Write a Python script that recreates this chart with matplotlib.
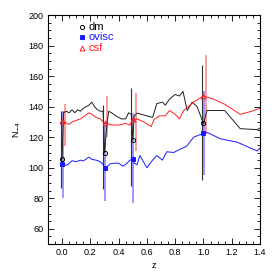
import numpy as np
import matplotlib
matplotlib.use("Agg")
import matplotlib.pyplot as plt
from matplotlib.ticker import MultipleLocator

# continuous curves
dm_z = [0.0, 0.01, 0.03, 0.05, 0.07, 0.09, 0.11, 0.13, 0.15, 0.17, 0.19, 0.21, 0.23, 0.25,
        0.27, 0.29, 0.30, 0.32, 0.33, 0.35, 0.38, 0.42, 0.45, 0.47, 0.49, 0.50, 0.51, 0.53,
        0.60, 0.64, 0.67, 0.71, 0.73, 0.76, 0.80, 0.83, 0.855, 0.885, 0.92, 0.955, 1.0,
        1.025, 1.15, 1.26, 1.38, 1.4]
dm_n = [106, 136, 137, 136, 138, 136, 138, 137, 139, 140, 141, 143, 140, 138,
        137, 137, 110, 131, 137, 136, 134, 132, 132, 136, 135, 118, 134, 135.8,
        134, 133, 142, 143, 141, 145, 148, 147, 150, 137.5, 143, 140, 129,
        137.5, 137.5, 125.6, 125, 126]

ov_z = [0.0, 0.01, 0.04, 0.07, 0.10, 0.13, 0.15, 0.19, 0.21, 0.24, 0.27, 0.29, 0.30, 0.31,
        0.34, 0.37, 0.40, 0.43, 0.46, 0.48, 0.50, 0.51, 0.53, 0.55, 0.60, 0.64, 0.67, 0.71,
        0.74, 0.79, 0.83, 0.88, 0.93, 1.0, 1.03, 1.12, 1.24, 1.33, 1.38, 1.4]
ov_n = [102.6, 101.5, 102, 104.6, 104, 105, 104.5, 107, 105.5, 105, 104, 102, 100, 100,
        102.6, 103, 103, 101, 103, 105, 105.5, 103, 102, 108, 100, 105, 108, 105,
        110.5, 110, 112, 114, 120, 122.6, 123, 119, 116.7, 113, 111, 113]

csf_z = [0.0, 0.01, 0.03, 0.05, 0.07, 0.10, 0.13, 0.16, 0.19, 0.21, 0.24, 0.27, 0.29, 0.30,
         0.32, 0.35, 0.40, 0.45, 0.48, 0.50, 0.51, 0.53, 0.58, 0.63, 0.65, 0.69, 0.73, 0.76,
         0.80, 0.83, 0.86, 0.88, 0.93, 1.0, 1.07, 1.15, 1.26, 1.34, 1.4]
csf_n = [130.5, 131, 129, 128.5, 130, 131, 132, 134, 136, 135, 133, 132, 130, 129,
         129, 128, 128, 129, 128, 132, 131, 132, 130, 127, 131.6, 134, 134, 137.5,
         135, 132, 137.5, 139, 143, 147, 145, 141.6, 135, 137, 139]

# snapshot points with error ranges
snap_z = [0.0, 0.3, 0.5, 1.0]
dm_pt = [106, 110, 118, 129]
dm_lo = [87, 86, 88, 92]
dm_hi = [137, 141, 152, 167]
ov_pt = [102.6, 100, 105.5, 122.6]
ov_lo = [80, 78, 77, 95]
ov_hi = [137, 130, 136, 150]
csf_pt = [130.5, 129, 132, 147]
csf_lo = [114, 120, 111, 122]
csf_hi = [142, 147, 149, 174]

blue = "#1a1aff"
red = "#ff2020"

plt.rcParams["font.family"] = ["Liberation Sans", "DejaVu Sans"]

fig = plt.figure(figsize=(2.74, 2.74), dpi=100)
ax = fig.add_axes([0.175, 0.109, 0.774, 0.836])

sz = np.array(snap_z)
# error bars
ax.vlines(sz - 0.01, dm_lo, dm_hi, color="#333333", lw=0.8)
ax.vlines(sz + 0.005, ov_lo, ov_hi, color=blue, lw=1.4, alpha=0.45)
ax.vlines(sz + 0.02, csf_lo, csf_hi, color=red, lw=1.4, alpha=0.45)

ax.plot(dm_z, dm_n, color="#222222", lw=0.7)
ax.plot(ov_z, ov_n, color=blue, lw=0.7)
ax.plot(csf_z, csf_n, color=red, lw=0.7)

ax.plot(snap_z, dm_pt, "o", mfc="none", mec="black", ms=3, mew=0.7)
ax.plot(snap_z, ov_pt, "s", mfc=blue, mec=blue, ms=3, mew=0.7)
ax.plot(snap_z, csf_pt, "^", mfc="none", mec=red, ms=3.5, mew=0.7)

# legend
lx, ltx = 0.16, 0.19
ly = [0.95, 0.903, 0.858]
ax.plot(lx, ly[0], "o", mfc="none", mec="black", ms=3, mew=0.7, transform=ax.transAxes)
ax.plot(lx, ly[1], "s", mfc=blue, mec=blue, ms=3, mew=0.7, transform=ax.transAxes)
ax.plot(lx, ly[2], "^", mfc="none", mec=red, ms=3.5, mew=0.7, transform=ax.transAxes)
ax.text(ltx, ly[0], "dm", color="black", fontsize=8, va="center", transform=ax.transAxes)
ax.text(ltx, ly[1], "ovisc", color=blue, fontsize=8, va="center", transform=ax.transAxes)
ax.text(ltx, ly[2], "csf", color=red, fontsize=8, va="center", transform=ax.transAxes)

ax.set_xlim(-0.1, 1.4)
ax.set_ylim(50, 200)
ax.xaxis.set_major_locator(MultipleLocator(0.2))
ax.xaxis.set_minor_locator(MultipleLocator(0.05))
ax.yaxis.set_major_locator(MultipleLocator(20))
ax.yaxis.set_minor_locator(MultipleLocator(5))
ax.set_xticks([0.0, 0.2, 0.4, 0.6, 0.8, 1.0, 1.2, 1.4])
ax.set_xticklabels(["0.0", "0.2", "0.4", "0.6", "0.8", "1.0", "1.2", "1.4"])
ax.tick_params(which="both", direction="in", top=True, right=True, labelsize=6.5, width=0.6, pad=3)
ax.tick_params(which="major", length=4)
ax.tick_params(which="minor", length=2)
for s in ax.spines.values():
    s.set_linewidth(0.8)

ax.set_xlabel("z", fontsize=6.5, labelpad=3)
ax.set_ylabel("N$_{-4}$", fontsize=6.5, labelpad=4)

fig.savefig("out.png", dpi=100)
